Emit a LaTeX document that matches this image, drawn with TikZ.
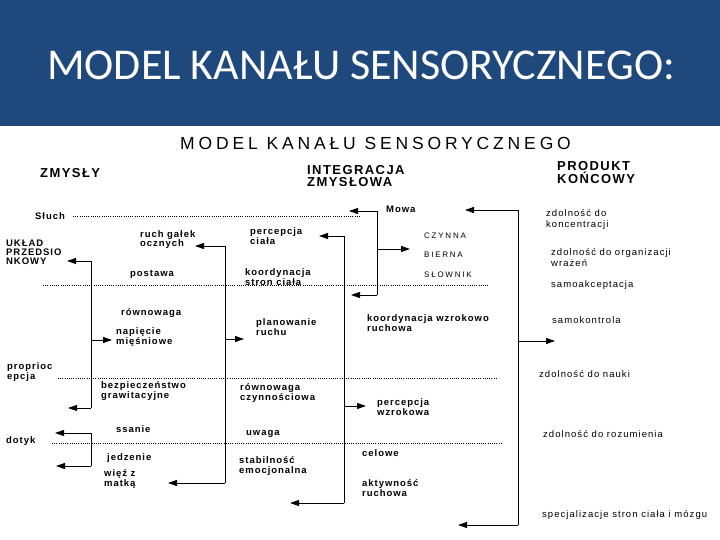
\documentclass[tikz,border=0pt]{standalone}
\usepackage{fontspec}
\setmainfont{Liberation Sans}
\newfontfamily\hdrfont{Carlito}
\newfontfamily\ttlfont{Liberation Sans}[LetterSpace=22]
\newfontfamily\hdfont{Liberation Sans}[LetterSpace=11]
\newfontfamily\lbfont{Liberation Sans}[LetterSpace=10]
\newfontfamily\rsfont{Liberation Sans}[LetterSpace=11]
\newfontfamily\smfont{Liberation Sans}[LetterSpace=22]
\usetikzlibrary{arrows.meta}
\definecolor{band}{HTML}{1F497D}
\begin{document}
\begin{tikzpicture}[x=1pt,y=-1pt,
 lab/.style={font=\lbfont\bfseries\fontsize{9.5}{9.5}\selectfont, anchor=base west, inner sep=0, align=left},
 res/.style={font=\rsfont\fontsize{9.5}{10.5}\selectfont, anchor=base west, inner sep=0, align=left},
 hd/.style={font=\hdfont\bfseries\fontsize{13}{12.5}\selectfont, anchor=base west, inner sep=0, align=left},
 sm/.style={font=\smfont\fontsize{8}{8}\selectfont, anchor=base west, inner sep=0},
 ln/.style={line width=0.9pt},
 arr/.style={line width=0.9pt, -{Triangle[length=9pt,width=6pt]}},
 dot/.style={line width=1pt, dash pattern=on 1pt off 1.2pt},
]
\useasboundingbox (0,0) rectangle (720,540);
\fill[band] (0,0) rectangle (720,126);
\node[font=\hdrfont\fontsize{44}{44}\selectfont, text=white, anchor=base west, inner sep=0] (title) at (47,80) {MODEL KANAŁU SENSORYCZNEGO:};
\node[font=\ttlfont\fontsize{17.5}{17.5}\selectfont, anchor=base west, inner sep=0] (sub) at (180,150) {MODEL KANAŁU SENSORYCZNEGO};

% headings (anchor = baseline of last line)
\node[hd] (zm) at (40,178) {ZMYSŁY};
\node[hd, font=\hdfont\bfseries\fontsize{13}{13}\selectfont] (int) at (307,187) {INTEGRACJA\\ZMYSŁOWA};
\node[hd, font=\hdfont\bfseries\fontsize{13}{11.5}\selectfont] (prod) at (557,183.5) {PRODUKT\\KOŃCOWY};

% labels
\node[lab] (sl) at (35,220) {Słuch};
\node[lab, font=\lbfont\bfseries\fontsize{9.5}{9}\selectfont] (uk) at (6,264) {UKŁAD\\PRZEDSIO\\NKOWY};
\node[lab] (rg) at (140,247) {ruch gałek\\ocznych};
\node[lab] (pc) at (250,244) {percepcja\\ciała};
\node[lab] (mw) at (386,213) {Mowa};
\node[sm] (cz) at (424,239) {CZYNNA};
\node[sm] (bi) at (424,258) {BIERNA};
\node[sm] (so) at (424,277) {SŁOWNIK};
\node[lab] (po) at (130,276) {postawa};
\node[lab] (ks) at (245,285) {koordynacja\\stron ciała};
\node[lab] (rw) at (121,315) {równowaga};
\node[lab] (nm) at (116,344) {napięcie\\mięśniowe};
\node[lab] (pr) at (256,335) {planowanie\\ruchu};
\node[lab] (kw) at (367,331) {koordynacja wzrokowo\\ruchowa};
\node[lab] (pp) at (7,379) {proprioc\\epcja};
\node[lab] (bg) at (101,398) {bezpieczeństwo\\grawitacyjne};
\node[lab] (rc) at (240,400) {równowaga\\czynnościowa};
\node[lab] (pw) at (377,415) {percepcja\\wzrokowa};
\node[lab] (ss) at (116,432) {ssanie};
\node[lab] (uw) at (246,435) {uwaga};
\node[lab] (dt) at (6,443) {dotyk};
\node[lab] (jd) at (107,460) {jedzenie};
\node[lab] (wm) at (104,486) {więź z\\matką};
\node[lab] (se) at (239,473) {stabilność\\emocjonalna};
\node[lab] (ce) at (362,456) {celowe};
\node[lab] (ar) at (362,496) {aktywność\\ruchowa};

% results
\node[res] (r1) at (546,227.5) {zdolność do\\koncentracji};
\node[res] (r2) at (551,266) {zdolność do organizacji\\wrażeń};
\node[res] (r3) at (551,287) {samoakceptacja};
\node[res] (r4) at (552,323) {samokontrola};
\node[res] (r5) at (539,377) {zdolność do nauki};
\node[res] (r6) at (543,437) {zdolność do rozumienia};
\node[res] (r7) at (542,517) {specjalizacje stron ciała i mózgu};

% dotted lines
\coordinate (d1a) at (73,217); \coordinate (d1b) at (360,217);
\coordinate (d2a) at (43,285.5); \coordinate (d2b) at (488,285.5);
\coordinate (d3a) at (58,378); \coordinate (d3b) at (497,378);
\coordinate (d4a) at (52,443); \coordinate (d4b) at (502,443);
\draw[dot] (d1a) -- (d1b);
\draw[dot] (d2a) -- (d2b);
\draw[dot] (d3a) -- (d3b);
\draw[dot] (d4a) -- (d4b);

% bracket A (x=91)
\coordinate (a1) at (91,261); \coordinate (a2) at (91,340); \coordinate (a3) at (91,408);
\coordinate (ta1) at (67,261); \coordinate (ta2) at (112,340); \coordinate (ta3) at (68,408);
\draw[ln] (a1) -- (a3);
\draw[arr] (a1) -- (ta1);
\draw[arr] (a2) -- (ta2);
\draw[arr] (a3) -- (ta3);

% bracket B (x=225)
\coordinate (b1) at (225,246); \coordinate (b2) at (225,339); \coordinate (b3) at (225,483);
\coordinate (tb1) at (195,246); \coordinate (tb2) at (244,339); \coordinate (tb3) at (168,483);
\draw[ln] (b1) -- (b3);
\draw[arr] (b1) -- (tb1);
\draw[arr] (b2) -- (tb2);
\draw[arr] (b3) -- (tb3);

% bracket C (x=344)
\coordinate (c1) at (344,236); \coordinate (c2) at (344,406); \coordinate (c3) at (344,503);
\coordinate (tc1) at (319,236); \coordinate (tc2) at (366,406); \coordinate (tc3) at (290,503);
\draw[ln] (c1) -- (c3);
\draw[arr] (c1) -- (tc1);
\draw[arr] (c2) -- (tc2);
\draw[arr] (c3) -- (tc3);

% bracket D (x=377)
\coordinate (e1) at (377,211); \coordinate (e2) at (377,249); \coordinate (e3) at (377,295);
\coordinate (te1) at (349,211); \coordinate (te2) at (410,249); \coordinate (te3) at (351,295);
\draw[ln] (e1) -- (e3);
\draw[arr] (e1) -- (te1);
\draw[arr] (e2) -- (te2);
\draw[arr] (e3) -- (te3);

% bracket E (x=518)
\coordinate (f1) at (518,210); \coordinate (f2) at (518,341); \coordinate (f3) at (518,525);
\coordinate (tf1) at (465,210); \coordinate (tf2) at (555,341); \coordinate (tf3) at (458,525);
\draw[ln] (f1) -- (f3);
\draw[arr] (f1) -- (tf1);
\draw[arr] (f2) -- (tf2);
\draw[arr] (f3) -- (tf3);

% bracket F (x=91, bottom)
\coordinate (g1) at (91,433); \coordinate (g2) at (91,466);
\coordinate (tg1) at (55,433); \coordinate (tg2) at (56,466);
\draw[ln] (g1) -- (g2);
\draw[arr] (g1) -- (tg1);
\draw[arr] (g2) -- (tg2);
\end{tikzpicture}
\end{document}
